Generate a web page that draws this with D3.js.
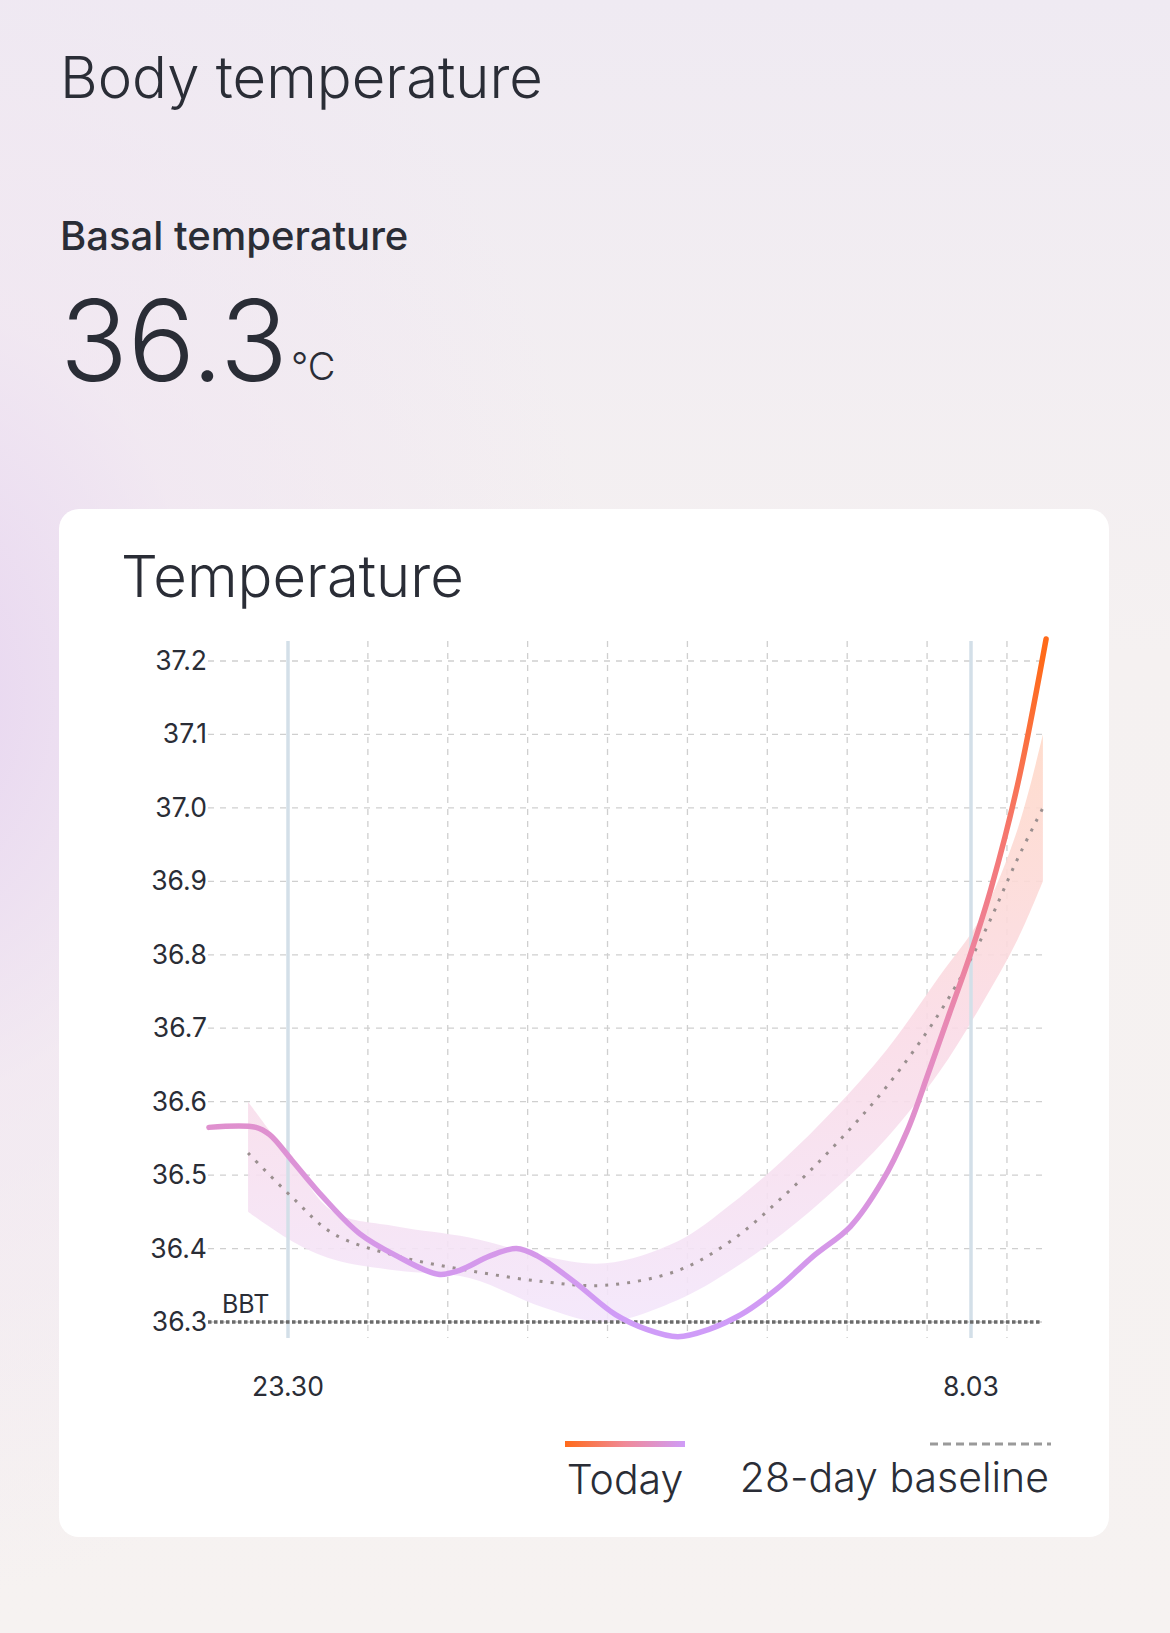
<!DOCTYPE html>
<html><head><meta charset="utf-8">
<script src="https://cdn.jsdelivr.net/npm/d3@7"></script>
<style>
html,body{margin:0;padding:0;width:1170px;height:1633px;overflow:hidden;font-family:Inter,"Noto Sans",sans-serif;}
body{background:radial-gradient(ellipse 700px 900px at -100px 700px,#e6d3f0 0%,rgba(240,228,242,0.6) 45%,rgba(246,241,240,0) 100%),linear-gradient(180deg,#efeaf2 0%,#f5f1f1 40%,#f6f2f1 100%);}
</style></head>
<body><svg id="c" width="1170" height="1633"></svg>
<script>
const todayHours=[-0.99,-0.40,-0.23,0.05,0.44,0.90,1.36,1.88,2.14,2.53,2.86,3.12,3.58,4.10,4.49,4.88,5.27,5.67,6.12,6.58,7.04,7.43,7.75,8.02,8.28,8.54,8.80,9.13,9.49];
const todayTemp=[36.565,36.565,36.555,36.52,36.47,36.42,36.39,36.365,36.37,36.39,36.40,36.39,36.355,36.31,36.29,36.28,36.29,36.31,36.345,36.39,36.43,36.49,36.56,36.64,36.72,36.80,36.89,37.03,37.23];
const baseHours=[-0.50,0.05,0.57,1.36,2.27,3.19,3.97,4.88,5.54,6.19,6.84,7.49,8.15,8.67,9.13,9.45];
const baseTemp=[36.53,36.47,36.42,36.39,36.37,36.355,36.35,36.37,36.41,36.47,36.54,36.62,36.72,36.82,36.93,37.00];
const bandLo=[36.45,36.41,36.385,36.37,36.36,36.32,36.30,36.33,36.37,36.42,36.48,36.55,36.64,36.73,36.82,36.90];
const bandHi=[36.60,36.52,36.45,36.43,36.415,36.39,36.38,36.41,36.46,36.52,36.59,36.67,36.77,36.85,36.97,37.10];
const yTicks=[36.3,36.4,36.5,36.6,36.7,36.8,36.9,37.0,37.1,37.2];
const xMarks=[{h:0,label:"23.30"},{h:8.55,label:"8.03"}];
const hourGrid=[1,2,3,4,5,6,7,8,9];
const bbt=36.3;

const svg=d3.select("#c");
svg.append("text").attr("x",60).attr("y",98).attr("font-size",58).attr("font-weight",300).attr("fill","#2a2d36").text("Body temperature");
svg.append("text").attr("x",60).attr("y",250).attr("font-size",40).attr("font-weight",500).attr("fill","#2a2d36").text("Basal temperature");
svg.append("text").attr("x",60).attr("y",381).attr("font-size",112).attr("font-weight",300).attr("fill","#2a2d36").text("36.3");
svg.append("text").attr("x",291).attr("y",380).attr("font-size",38).attr("font-weight",300).attr("fill","#2a2d36").text("°C");

svg.append("rect").attr("x",59).attr("y",509).attr("width",1050).attr("height",1028).attr("rx",20).attr("fill","#ffffff");
svg.append("text").attr("x",121).attr("y",597).attr("font-size",58).attr("font-weight",300).attr("fill","#2a2d36").text("Temperature");

const x=d3.scaleLinear().domain([0,8.55]).range([288,971]);
const y=d3.scaleLinear().domain([36.3,37.2]).range([1322,661]);
const defs=svg.append("defs");
const g1=defs.append("linearGradient").attr("id","tg").attr("gradientUnits","userSpaceOnUse").attr("x1",0).attr("x2",0).attr("y1",y(37.2)).attr("y2",y(36.3));
g1.append("stop").attr("offset",0).attr("stop-color","#ff6a1a");
g1.append("stop").attr("offset",0.3).attr("stop-color","#f4797a");
g1.append("stop").attr("offset",0.6).attr("stop-color","#e58cc0");
g1.append("stop").attr("offset",1).attr("stop-color","#cf9cf8");
const g2=defs.append("linearGradient").attr("id","bg").attr("gradientUnits","userSpaceOnUse").attr("x1",0).attr("x2",0).attr("y1",y(37.1)).attr("y2",y(36.3));
g2.append("stop").attr("offset",0).attr("stop-color","#ffd9c8");
g2.append("stop").attr("offset",0.5).attr("stop-color","#fadbe6");
g2.append("stop").attr("offset",1).attr("stop-color","#f3e6fb");
const g3=defs.append("linearGradient").attr("id","lg");
g3.append("stop").attr("offset",0).attr("stop-color","#ff6a1a");
g3.append("stop").attr("offset",0.5).attr("stop-color","#f08a98");
g3.append("stop").attr("offset",1).attr("stop-color","#cf9cf8");

svg.append("g").selectAll("line").data(yTicks).join("line")
 .attr("x1",208).attr("x2",1042).attr("y1",d=>y(d)).attr("y2",d=>y(d))
 .attr("stroke","#cfcfcf").attr("stroke-width",1.3).attr("stroke-dasharray","6,6");
svg.append("g").selectAll("line").data(hourGrid).join("line")
 .attr("x1",d=>x(d)).attr("x2",d=>x(d)).attr("y1",641).attr("y2",1338)
 .attr("stroke","#cfcfcf").attr("stroke-width",1.3).attr("stroke-dasharray","6,6");
svg.append("g").selectAll("text").data(yTicks).join("text")
 .attr("x",207).attr("y",d=>y(d)+9).attr("text-anchor","end").attr("font-size",26.5).attr("fill","#2a2d36").text(d=>d.toFixed(1));

const band=baseHours.map((h,i)=>({h,lo:bandLo[i],hi:bandHi[i]}));
svg.append("path").datum(band).attr("fill","url(#bg)").attr("opacity",0.9)
 .attr("d",d3.area().x(d=>x(d.h)).y0(d=>y(d.lo)).y1(d=>y(d.hi)).curve(d3.curveCatmullRom));

svg.append("g").selectAll("line").data(xMarks).join("line")
 .attr("x1",d=>x(d.h)).attr("x2",d=>x(d.h)).attr("y1",641).attr("y2",1338)
 .attr("stroke","#d3dfe8").attr("stroke-width",3.5);
svg.append("g").selectAll("text").data(xMarks).join("text")
 .attr("x",d=>x(d.h)).attr("y",1396).attr("text-anchor","middle").attr("font-size",26.5).attr("fill","#2a2d36").text(d=>d.label);

svg.append("line").attr("x1",208).attr("x2",1042).attr("y1",y(bbt)).attr("y2",y(bbt))
 .attr("stroke","#6b6b6b").attr("stroke-width",3.5).attr("stroke-dasharray","3.5,2.5");
svg.append("text").attr("x",222).attr("y",y(bbt)-9).attr("font-size",25).attr("fill","#2a2d36").text("BBT");

const base=baseHours.map((h,i)=>({h,t:baseTemp[i]}));
svg.append("path").datum(base).attr("fill","none").attr("stroke","#9a8f8f").attr("stroke-width",3).attr("stroke-dasharray","3,8")
 .attr("d",d3.line().x(d=>x(d.h)).y(d=>y(d.t)).curve(d3.curveCatmullRom));

const today=todayHours.map((h,i)=>({h,t:todayTemp[i]}));
svg.append("path").datum(today).attr("fill","none").attr("stroke","url(#tg)").attr("stroke-width",5.5).attr("stroke-linecap","round")
 .attr("d",d3.line().x(d=>x(d.h)).y(d=>y(d.t)).curve(d3.curveCatmullRom));

svg.append("rect").attr("x",565).attr("y",1441).attr("width",120).attr("height",6).attr("fill","url(#lg)");
svg.append("text").attr("x",625).attr("y",1494).attr("text-anchor","middle").attr("font-size",41).attr("font-weight",300).attr("fill","#2a2d36").text("Today");
svg.append("line").attr("x1",930).attr("x2",1051).attr("y1",1444).attr("y2",1444).attr("stroke","#9a9a9a").attr("stroke-width",3).attr("stroke-dasharray","8,5");
svg.append("text").attr("x",1049).attr("y",1492).attr("text-anchor","end").attr("font-size",41).attr("font-weight",300).attr("fill","#2a2d36").text("28-day baseline");
</script></body></html>
